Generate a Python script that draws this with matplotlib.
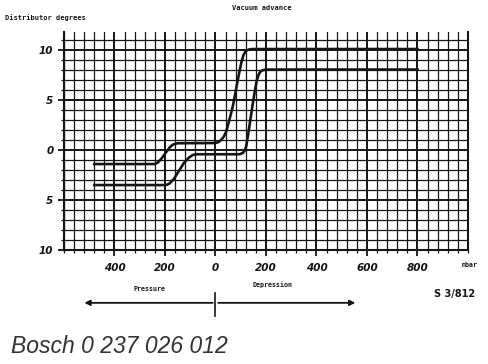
import matplotlib
matplotlib.use("Agg")
import matplotlib.pyplot as plt
from matplotlib.transforms import blended_transform_factory
import numpy as np

# Data (mbar: negative = pressure, positive = depression; degrees)
upper_mbar = [-480, -240, -228, -212, -195, -180, -168, -150, 0, 12, 22, 32, 42, 55, 69, 81, 93, 103, 111, 120, 132, 145, 800]
upper_deg  = [-1.4, -1.4, -1.25, -0.8, -0.2, 0.3, 0.55, 0.68, 0.7, 0.8, 1.0, 1.3, 1.8, 3.0, 4.4, 6.0, 7.6, 8.8, 9.5, 9.9, 10.05, 10.1, 10.1]
lower_mbar = [-480, -195, -182, -165, -145, -125, -105, -90, -75, 95, 108, 116, 122, 134, 146, 156, 164, 172, 180, 190, 202, 800]
lower_deg  = [-3.5, -3.5, -3.35, -2.9, -2.1, -1.3, -0.75, -0.5, -0.42, -0.42, -0.3, -0.05, 0.4, 2.3, 4.35, 5.9, 7.0, 7.6, 7.9, 8.0, 8.05, 8.05]

xtick_vals = [-400, -200, 0, 200, 400, 600, 800]
xtick_labels = ["400", "200", "0", "200", "400", "600", "800"]
ytick_vals = [10, 5, 0, -5, -10]
ytick_labels = ["10", "5", "0", "5", "10"]

ink = "#151515"

fig = plt.figure(figsize=(4.88, 3.64), dpi=100)
ax = fig.add_axes([0.131, 0.313, 0.828, 0.599])

ax.set_xlim(-600, 1000)
ax.set_ylim(-10, 11.8)

# grid
ax.set_xticks(np.arange(-600, 1001, 40), minor=True)
ax.set_yticks(np.arange(-10, 12, 1), minor=True)
ax.grid(which="minor", color=ink, lw=0.9)
ax.set_axisbelow(True)

ax.set_xticks(xtick_vals)
ax.set_xticklabels(xtick_labels, fontsize=7.5, style="italic", fontweight="bold", color=ink)
ax.set_yticks(ytick_vals)
ax.set_yticklabels(ytick_labels, fontsize=7.5, style="italic", fontweight="bold", color=ink)
ax.grid(which="major", color=ink, lw=1.4)

ax.tick_params(which="both", direction="out", color=ink)
ax.tick_params(which="major", length=4, width=1.3)
ax.tick_params(which="minor", length=2.5, width=0.9)
ax.tick_params(axis="x", which="major", pad=5)
ax.tick_params(axis="y", which="major", pad=3.5)

ax.spines["top"].set_visible(False)
for s in ["left", "right", "bottom"]:
    ax.spines[s].set_color(ink)
    ax.spines[s].set_linewidth(1.5)

# curves
ax.plot(upper_mbar, upper_deg, color=ink, lw=1.9, solid_joinstyle="round", zorder=3)
ax.plot(lower_mbar, lower_deg, color=ink, lw=1.9, solid_joinstyle="round", zorder=3)

# texts
fig.text(0.01, 0.953, "Distributor degrees", fontsize=5, fontweight="bold",
         family="DejaVu Sans Mono", color=ink, va="center", ha="left")
fig.text(0.537, 0.978, "Vacuum advance", fontsize=5, fontweight="bold",
         family="DejaVu Sans Mono", color=ink, va="center", ha="center")
fig.text(0.963, 0.271, "mbar", fontsize=4.8, fontweight="bold",
         family="DejaVu Sans Mono", color=ink, va="center", ha="center")

tr = blended_transform_factory(ax.transData, fig.transFigure)
ax.annotate("", xy=(-530, 0.168), xytext=(0, 0.168), xycoords=tr, textcoords=tr,
            arrowprops=dict(arrowstyle="-|>", color=ink, lw=1.3, mutation_scale=8),
            annotation_clip=False)
ax.annotate("", xy=(565, 0.168), xytext=(0, 0.168), xycoords=tr, textcoords=tr,
            arrowprops=dict(arrowstyle="-|>", color=ink, lw=1.3, mutation_scale=8),
            annotation_clip=False)
ax.plot([0, 0], [0.132, 0.196], transform=tr, color=ink, lw=1.2, clip_on=False)
ax.text(-260, 0.207, "Pressure", transform=tr, fontsize=4.8, fontweight="bold",
        family="DejaVu Sans Mono", color=ink, ha="center", va="center")
ax.text(225, 0.218, "Depression", transform=tr, fontsize=4.8, fontweight="bold",
        family="DejaVu Sans Mono", color=ink, ha="center", va="center")
fig.text(0.932, 0.192, "S 3/812", fontsize=7, fontweight="bold",
         family="DejaVu Sans", color=ink, ha="center", va="center")

fig.text(0.022, 0.048, "Bosch 0 237 026 012", fontsize=16.5, style="italic",
         family="Liberation Sans", color="#333333", ha="left", va="center")

fig.savefig("out.png", dpi=100, facecolor="white")
